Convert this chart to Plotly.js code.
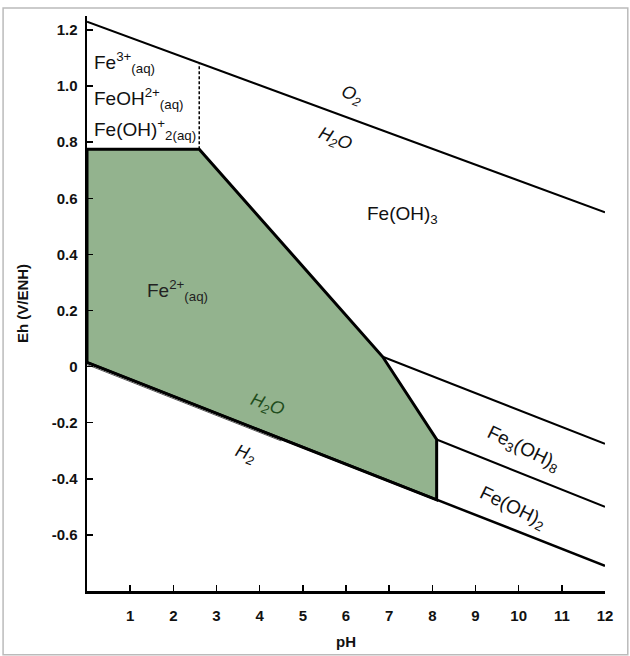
<!DOCTYPE html>
<html>
<head>
<meta charset="utf-8">
<script src="https://cdn.plot.ly/plotly-3.0.1.min.js"></script>
<style>body{margin:0;padding:0;background:#fff}#chart{width:630px;height:656px}</style>
</head>
<body>
<div id="chart"></div>
<script>
// ---- data (pH, Eh in V) ----
const phO2 = [0, 12];
const ehO2 = [1.23, 0.55];
const phH2 = [0, 12];
const ehH2 = [0.015, -0.71];
const phH2b = [0, 4.5];
const ehH2b = [0.007, -0.265];
const phFe2 = [0, 2.6, 6.85, 8.1, 8.1, 0, 0];
const ehFe2 = [0.775, 0.775, 0.035, -0.26, -0.475, 0.015, 0.775];
const phFe3 = [2.6, 2.6];
const ehFe3 = [0.775, 1.08];
const phFe3OH8 = [6.85, 12];
const ehFe3OH8 = [0.035, -0.275];
const phFeOH2 = [8.1, 12];
const ehFeOH2 = [-0.26, -0.50];
const xTickVals = [1,2,3,4,5,6,7,8,9,10,11,12];
const xTickText = ["1","2","3","4","5","6","7","8","9","10","11","12"];
const yTickVals = [1.2,1.0,0.8,0.6,0.4,0.2,0,-0.2,-0.4,-0.6];
const yTickText = ["1.2","1.0","0.8","0.6","0.4","0.2","0","-0.2","-0.4","-0.6"];

const labels = [
  {x: 0.12, y: 1.085, t: "Fe<sup>3+</sup><sub>(aq)</sub>", a: 0, c: "#111", xa: "left", s: 19},
  {x: 0.12, y: 0.955, t: "FeOH<sup>2+</sup><sub>(aq)</sub>", a: 0, c: "#111", xa: "left", s: 19},
  {x: 0.12, y: 0.845, t: "Fe(OH)<sup>+</sup><sub>2(aq)</sub>", a: 0, c: "#111", xa: "left", s: 19},
  {x: 6.13, y: 0.965, t: "<i>O<sub>2</sub></i>", a: 22, c: "#111", xa: "center", s: 18},
  {x: 5.74, y: 0.81, t: "<i>H<sub>2</sub>O</i>", a: 22, c: "#111", xa: "center", s: 18},
  {x: 7.3, y: 0.54, t: "Fe(OH)<sub>3</sub>", a: 0, c: "#111", xa: "center", s: 19},
  {x: 2.1, y: 0.27, t: "Fe<sup>2+</sup><sub>(aq)</sub>", a: 0, c: "#222", xa: "center", s: 19},
  {x: 4.17, y: -0.14, t: "<i>H<sub>2</sub>O</i>", a: 20, c: "#1f4d1c", xa: "center", s: 18},
  {x: 3.66, y: -0.315, t: "<i>H<sub>2</sub></i>", a: 20, c: "#111", xa: "center", s: 18},
  {x: 10.1, y: -0.295, t: "Fe<sub>3</sub>(OH)<sub>8</sub>", a: 26, c: "#111", xa: "center", s: 19},
  {x: 9.85, y: -0.505, t: "Fe(OH)<sub>2</sub>", a: 26, c: "#111", xa: "center", s: 19}
];

const traces = [
  {x: phFe2, y: ehFe2, type: "scatter", mode: "lines", fill: "toself", fillcolor: "#93b38e",
   line: {color: "#000", width: 3}, hoverinfo: "skip"},
  {x: phO2, y: ehO2, type: "scatter", mode: "lines", line: {color: "#000", width: 2}},
  {x: phH2, y: ehH2, type: "scatter", mode: "lines", line: {color: "#000", width: 2.5}},
  {x: phH2b, y: ehH2b, type: "scatter", mode: "lines", line: {color: "#555", width: 1}},
  {x: phFe3, y: ehFe3, type: "scatter", mode: "lines", line: {color: "#000", width: 1.5, dash: "3px,2px"}},
  {x: phFe3OH8, y: ehFe3OH8, type: "scatter", mode: "lines", line: {color: "#000", width: 2}},
  {x: phFeOH2, y: ehFeOH2, type: "scatter", mode: "lines", line: {color: "#000", width: 2}}
];

const layout = {
  width: 630, height: 656,
  margin: {l: 87, r: 25, t: 16, b: 65},
  paper_bgcolor: "#fff", plot_bgcolor: "rgba(0,0,0,0)",
  showlegend: false,
  font: {family: "Liberation Sans, Arial, sans-serif", color: "#111"},
  xaxis: {
    range: [0, 12], showgrid: false, zeroline: false,
    showline: true, linecolor: "#000", linewidth: 2.5,
    ticks: "inside", ticklen: 6, tickwidth: 1.5, tickcolor: "#000",
    tickvals: xTickVals, ticktext: xTickText, ticklabelstandoff: 9,
    tickfont: {size: 15, family: "Liberation Sans, Arial, sans-serif", weight: "bold"},
    title: {text: "<b>pH</b>", font: {size: 15}, standoff: 14}
  },
  yaxis: {
    range: [-0.8, 1.25], showgrid: false, zeroline: false,
    showline: true, linecolor: "#000", linewidth: 2.5,
    ticks: "inside", ticklen: 6, tickwidth: 1.5, tickcolor: "#000",
    tickvals: yTickVals, ticktext: yTickText, ticklabelstandoff: 4,
    tickfont: {size: 15, family: "Liberation Sans, Arial, sans-serif", weight: "bold"},
    title: {text: "<b>Eh (V/ENH)</b>", font: {size: 15}, standoff: 20}
  },
  annotations: labels.map(l => ({
    x: l.x, y: l.y, xref: "x", yref: "y", text: l.t, showarrow: false,
    textangle: l.a, xanchor: l.xa, yanchor: "middle",
    font: {size: l.s, color: l.c, family: "Liberation Sans, Arial, sans-serif"}
  })),
  shapes: [
    {type: "rect", xref: "paper", yref: "paper", x0: -0.162, x1: 1.044, y0: -0.111, y1: 1.014,
     line: {color: "#bbb", width: 1.5}, fillcolor: "rgba(0,0,0,0)", layer: "below"}
  ]
};

Plotly.newPlot("chart", traces, layout, {displayModeBar: false, staticPlot: true});
</script>
</body>
</html>
